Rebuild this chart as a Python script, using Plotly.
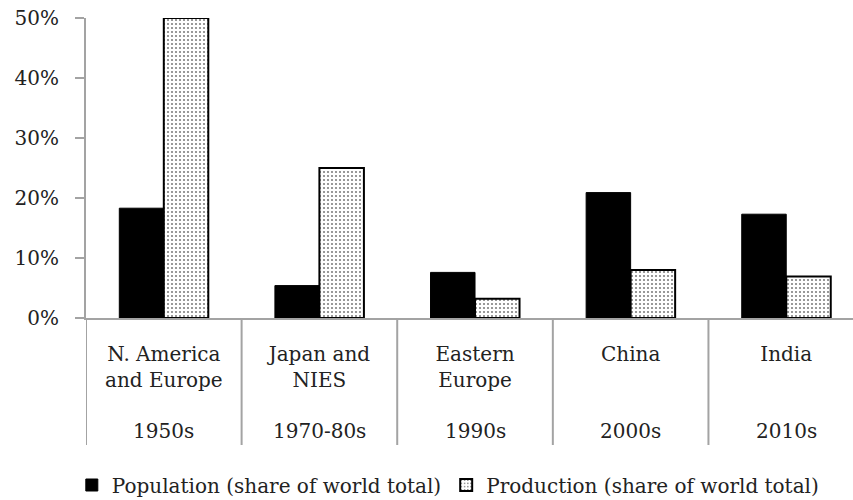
import plotly.graph_objects as go

regions = ["N. America<br>and Europe", "Japan and<br>NIES", "Eastern<br>Europe", "China", "India"]
periods = ["1950s", "1970-80s", "1990s", "2000s", "2010s"]
population = [18.3, 5.4, 7.6, 20.9, 17.3]
production = [50.0, 25.0, 3.2, 8.0, 6.9]
y_ticks = [0, 10, 20, 30, 40, 50]

xs = list(range(len(regions)))

FONT = "DejaVu Serif"
GRAY = "#a3a3a3"
TEXT = "#222222"

fig = go.Figure()
fig.add_trace(go.Bar(
    x=xs, y=population, name="Population (share of world total)",
    marker=dict(color="black", line=dict(color="black", width=1)),
))
fig.add_trace(go.Bar(
    x=xs, y=production, name="Production (share of world total)",
    marker=dict(color="white", line=dict(color="black", width=2),
                pattern=dict(shape=".", fgcolor="black", bgcolor="white", size=4, solidity=0.22)),
))

shapes = []
for i in range(len(regions)):
    shapes.append(dict(type="line", xref="x", yref="paper", x0=i - 0.5, x1=i - 0.5,
                       y0=0, y1=-(445 - 318) / 300, line=dict(color=GRAY, width=2)))

annotations = []
for x, p in zip(xs, periods):
    annotations.append(dict(x=x, xref="x", y=-(431 - 318) / 300, yref="paper",
                            text=p, showarrow=False, xanchor="center", yanchor="middle",
                            font=dict(family=FONT, size=20, color=TEXT)))

fig.update_layout(
    width=853, height=500,
    margin=dict(l=86, r=0, t=18, b=182),
    paper_bgcolor="white", plot_bgcolor="white",
    barmode="group", bargap=0.428, bargroupgap=0,
    font=dict(family=FONT, size=20, color=TEXT),
    showlegend=True,
    legend=dict(orientation="h", xref="container", yref="container", x=0.525, y=0.03,
                xanchor="center", yanchor="middle", font=dict(size=20), itemwidth=30,
                traceorder="normal"),
    shapes=shapes,
    annotations=annotations,
)
fig.update_xaxes(
    range=[-0.5, 4.429], tickmode="array", tickvals=xs, ticktext=regions,
    showline=True, linecolor=GRAY, linewidth=2, ticks="", showgrid=False, zeroline=False,
    ticklabelstandoff=17, tickfont=dict(size=20),
)
fig.update_yaxes(
    range=[0, 50], tickmode="array", tickvals=y_ticks, ticktext=[f"{v}%" for v in y_ticks],
    showline=True, linecolor=GRAY, linewidth=2, ticks="outside", ticklen=9, tickcolor=GRAY, tickwidth=2,
    showgrid=False, zeroline=False, tickfont=dict(size=20), ticklabelstandoff=12,
)

fig.write_html("out.html")
